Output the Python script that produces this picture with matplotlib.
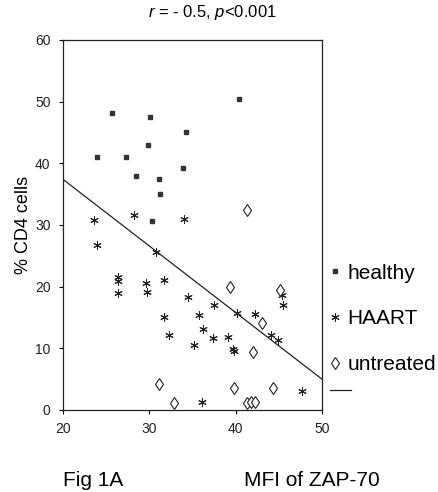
import matplotlib
matplotlib.use("Agg")
import numpy as np
import matplotlib.pyplot as plt
from matplotlib.lines import Line2D

plt.rcParams['font.family'] = ['Liberation Sans', 'DejaVu Sans']
plt.rcParams['mathtext.fontset'] = 'custom'
plt.rcParams['mathtext.rm'] = 'Liberation Sans'
plt.rcParams['mathtext.it'] = 'Liberation Sans:italic'

# valeurs
healthy_x = [40.4, 25.7, 30.1, 34.2, 29.8, 23.9, 27.3, 28.4, 31.1, 33.9, 31.2, 30.3]
healthy_y = [50.5, 48.1, 47.5, 45.0, 42.9, 41.0, 41.1, 38.0, 37.4, 39.3, 35.0, 30.6]

haart_x = [23.6, 28.2, 34.0, 23.9, 30.8, 26.4, 26.4, 26.4, 29.6, 29.7, 31.7, 34.5,
           37.5, 31.7, 35.7, 40.2, 42.2, 36.2, 32.3, 35.2, 37.4, 39.1, 39.7, 39.8,
           44.1, 44.9, 45.4, 45.5, 47.7, 36.1]
haart_y = [30.8, 31.7, 31.0, 26.7, 25.6, 21.6, 20.9, 18.9, 20.6, 19.1, 21.1, 18.4,
           17.1, 15.0, 15.4, 15.7, 15.6, 13.2, 12.2, 10.6, 11.7, 11.9, 9.9, 9.5,
           12.2, 11.3, 18.7, 17.1, 3.1, 1.25]

untreated_x = [41.3, 39.4, 45.1, 43.1, 42.0, 31.1, 39.8, 44.3, 32.9, 41.3, 41.8, 42.3]
untreated_y = [32.4, 20.0, 19.5, 14.1, 9.4, 4.2, 3.5, 3.5, 1.2, 1.2, 1.35, 1.35]

fit_slope = -1.08
fit_intercept = 59.0

x_ticks = [20, 30, 40, 50]
y_ticks = [0, 10, 20, 30, 40, 50, 60]

fig = plt.figure(figsize=(4.38, 4.92), dpi=100)
ax = fig.add_axes([0.1438, 0.1667, 0.5913, 0.752])

ax.plot(healthy_x, healthy_y, ls='none', marker='s', ms=3, mfc='#333333',
        mec='#333333', label='healthy')
ax.plot(haart_x, haart_y, ls='none', marker=(6, 2, 0), ms=6, mec='#222222',
        mew=0.75, label='HAART')
ax.plot(untreated_x, untreated_y, ls='none', marker='d', ms=6.5, mfc='white',
        mec='#222222', mew=0.8, label='untreated')

xs = np.array([x_ticks[0], x_ticks[-1]])
ax.plot(xs, fit_intercept + fit_slope * xs, color='#222222', lw=0.9)

ax.set_xlim(x_ticks[0], x_ticks[-1])
ax.set_ylim(y_ticks[0], y_ticks[-1])
ax.set_xticks(x_ticks)
ax.set_yticks(y_ticks)
ax.tick_params(direction='out', length=3, width=0.8, labelsize=10,
               labelcolor='#222222', pad=6)
for s in ax.spines.values():
    s.set_linewidth(0.9)
    s.set_color('#222222')

ax.set_ylabel('% CD4 cells', fontsize=13)
ax.yaxis.set_label_coords(-0.12, 0.5)

leg = ax.legend(loc='center left', bbox_to_anchor=(1.027, 0.246), frameon=False,
                fontsize=15, handlelength=0.6, handletextpad=0.3,
                labelspacing=1.29, borderaxespad=0.0, borderpad=0.0)
ax.add_artist(leg)
ax.legend([Line2D([], [], color='#222222', lw=0.9)], [''], loc='center left',
          bbox_to_anchor=(1.031, 0.05), frameon=False, fontsize=15,
          handlelength=1.0, borderaxespad=0.0, borderpad=0.0)

fig.text(0.484, 0.975, r'$r$ = - 0.5, $p$<0.001', ha='center', va='center',
         fontsize=12)
fig.text(0.143, 0.024, 'Fig 1A', ha='left', va='center', fontsize=15)
fig.text(0.712, 0.024, 'MFI of ZAP-70', ha='center', va='center', fontsize=15)

fig.savefig('out.png', dpi=100)
